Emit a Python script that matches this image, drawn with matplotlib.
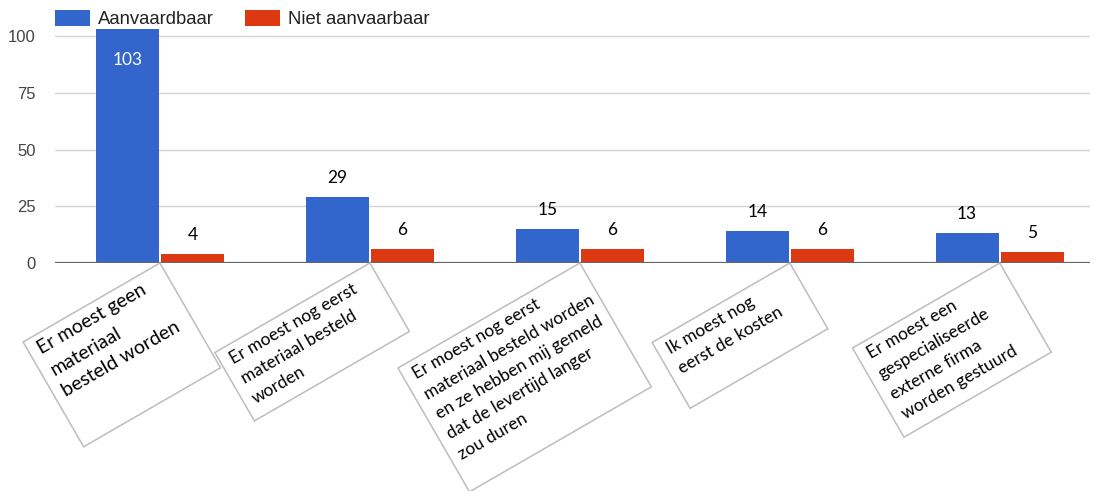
import matplotlib
matplotlib.use('Agg')
import matplotlib.pyplot as plt
import matplotlib.transforms as mtransforms
from matplotlib.patches import Polygon
import numpy as np

# ---- data ----
categories = [
    "Er moest geen\nmateriaal\nbesteld worden",
    "Er moest nog eerst\nmateriaal besteld\nworden",
    "Er moest nog eerst\nmateriaal besteld worden\nen ze hebben mij gemeld\ndat de levertijd langer\nzou duren",
    "Ik moest nog\neerst de kosten",
    "Er moest een\ngespecialiseerde\nexterne firma\nworden gestuurd",
]
aanvaardbaar = [103, 29, 15, 14, 13]
niet_aanvaardbaar = [4, 6, 6, 6, 5]
series_labels = ["Aanvaardbaar", "Niet aanvaarbaar"]
yticks = [0, 25, 50, 75, 100]

# ---- style ----
BLUE = '#3366cc'
RED = '#dc3912'
box_sizes = [(158, 121), (179, 79), (210, 143), (159, 76), (170, 103)]  # pixels (along, across)
box_fontsizes = [14, 12.5, 12.5, 12.5, 12.5]
ANGLE = 30
LABEL_FONT = 'Lato'

W_PX, H_PX = 1097, 491
fig = plt.figure(figsize=(W_PX / 100, H_PX / 100), dpi=100)
ax = fig.add_axes([55 / W_PX, 228 / H_PX, (1090 - 55) / W_PX, (263 - 29.2) / H_PX])

x = np.arange(len(categories))
bw = 0.30
off = 0.155
ymax = 103
ax.set_xlim(-0.5, 4.43)
ax.set_ylim(0, ymax)

b1 = ax.bar(x - off, aanvaardbaar, bw, color=BLUE, label=series_labels[0], zorder=2)
b2 = ax.bar(x + off, niet_aanvaardbaar, bw, color=RED, label=series_labels[1], zorder=2)

# grid & axes
ax.set_yticks(yticks)
ax.yaxis.grid(True, color='#d4d4d4', lw=1.0, zorder=0)
ax.set_axisbelow(True)
ax.axhline(0, color='#666666', lw=1.6, zorder=3)
for s in ax.spines.values():
    s.set_visible(False)
ax.set_xticks([])
ax.tick_params(axis='y', length=0, pad=14, labelsize=12, labelcolor='#444444')
for t in ax.get_yticklabels():
    t.set_family('Liberation Sans')

# value labels
for xs, vals in ((x - off, aanvaardbaar), (x + off, niet_aanvaardbaar)):
    for xi, v in zip(xs, vals):
        if v >= ymax:
            ax.annotate(str(v), xy=(xi, ymax), xytext=(0, -31), textcoords='offset pixels',
                        ha='center', va='center', fontsize=12.5, color='white',
                        family=LABEL_FONT, annotation_clip=False, zorder=5)
        else:
            ax.annotate(str(v), xy=(xi, v), xytext=(0, 19), textcoords='offset pixels',
                        ha='center', va='center', fontsize=12.5, color='black',
                        family=LABEL_FONT, annotation_clip=False, zorder=5)

# callout boxes with category labels
ca, sa = np.cos(np.radians(ANGLE)), np.sin(np.radians(ANGLE))
for i, (lab, (bwid, bhei), fs) in enumerate(zip(categories, box_sizes, box_fontsizes)):
    verts = [(0, 0), (-bwid, 0), (-bwid, -bhei), (0, -bhei)]
    tr = mtransforms.Affine2D().rotate_deg(ANGLE) + mtransforms.ScaledTranslation(x[i], 0, ax.transData)
    poly = Polygon(verts, closed=True, facecolor='white', edgecolor='#bdbdbd', lw=1.1,
                   transform=tr, clip_on=False, zorder=6 + i)
    ax.add_patch(poly)
    lx, ly = -bwid + 10, -6
    dx, dy = lx * ca - ly * sa, lx * sa + ly * ca
    ax.annotate(lab, xy=(x[i], 0), xytext=(dx, dy), textcoords='offset pixels',
                rotation=ANGLE, rotation_mode='anchor', ha='left', va='top',
                fontsize=fs, family=LABEL_FONT, linespacing=1.55, color='black',
                annotation_clip=False, zorder=6 + i + 0.5)

# legend
leg = ax.legend(loc='upper left', bbox_to_anchor=(55 / W_PX, 1 - 10 / H_PX),
                bbox_transform=fig.transFigure, ncol=2, frameon=False,
                borderpad=0, borderaxespad=0, handlelength=1.9, handleheight=0.95,
                handletextpad=0.45, columnspacing=1.65,
                prop={'family': 'Liberation Sans', 'size': 13.3})
for t in leg.get_texts():
    t.set_color('#222222')
leg.set_zorder(20)

fig.savefig('out.png', dpi=100)
